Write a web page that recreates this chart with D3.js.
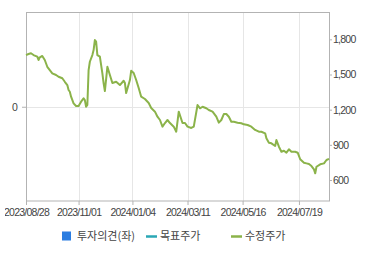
<!doctype html>
<html>

<head>
  <meta charset="utf-8">
  <title>수정주가</title>
  <script src="https://cdnjs.cloudflare.com/ajax/libs/d3/7.8.5/d3.min.js"></script>
  <style>
    body {
      margin: 0;
      background: #fff;
    }

    .axis text {
      font-family: 'Liberation Sans', Arial, sans-serif;
      font-size: 10.5px;
      letter-spacing: -0.75px;
      fill: #444;
    }

    .legend text {
      font-family: 'Noto Sans CJK KR', sans-serif;
      font-size: 11px;
      fill: #444;
    }
  </style>
</head>

<body>
  <div id="chart"></div>

  <script>
    // trading-day index of each sample and the adjusted price
    var dayIdx = [0, 2, 4, 6, 9, 10, 11, 13, 15, 17, 19, 21, 24, 26, 29, 31, 33, 34, 35, 36, 38, 40, 42, 44, 46, 47, 48, 49,
      50, 51, 53, 54, 55, 56, 57, 59, 61, 62, 63, 65, 67, 69, 72, 75, 78, 79, 80, 83, 84, 86, 88, 90, 92, 95, 98, 100,
      103, 105, 107, 109, 111, 113, 115, 118, 120, 122, 125, 127, 129, 132, 134, 137, 139, 141, 144, 146, 149, 152, 154,
      156, 158, 160, 162, 164, 166, 169, 172, 174, 177, 180, 183, 186, 188, 191, 192, 194, 196, 199, 200, 202, 204, 206,
      208, 210, 212, 215, 217, 219, 222, 224, 226, 228, 230, 231, 232, 235, 238, 240, 242];
    var price = [1666, 1675, 1681, 1666, 1652, 1624, 1647, 1658, 1624, 1566, 1538, 1510, 1496, 1481, 1468, 1438, 1410, 1368,
      1353, 1311, 1254, 1231, 1231, 1268, 1297, 1282, 1225, 1240, 1538, 1609, 1666, 1709, 1794, 1780, 1666, 1652, 1510,
      1425, 1359, 1566, 1496, 1427, 1438, 1410, 1447, 1427, 1342, 1453, 1532, 1513, 1453, 1385, 1311, 1291, 1257, 1214,
      1183, 1140, 1112, 1055, 1086, 1112, 1086, 1055, 1012, 1183, 1086, 1086, 1055, 1044, 1055, 1240, 1212, 1225, 1212,
      1197, 1183, 1140, 1089, 1112, 1163, 1163, 1140, 1097, 1097, 1089, 1084, 1075, 1069, 1055, 1027, 1012, 1012, 998,
      956, 918, 913, 890, 941, 884, 841, 850, 833, 862, 841, 841, 833, 777, 748, 742, 736, 719, 691, 657, 713, 734, 742,
      771, 780];

    var tickIdx = [0, 42, 85, 129, 173, 218];
    var tickLabels = ["2023/08/28", "2023/11/01", "2024/01/04", "2024/03/11", "2024/05/16", "2024/07/19"];
    var rightTicks = [600, 900, 1200, 1500, 1800];
    var leftTicks = [0];

    var legendItems = ["투자의견(좌)", "목표주가", "수정주가"];
    var legendColors = ["#2b7de1", "#2aa7b5", "#8bb34a"];

    var width = 370, height = 255;
    var margin = { top: 12.5, right: 41, bottom: 54, left: 26 };

    var svg = d3.select("#chart").append("svg").attr("width", width).attr("height", height);

    // the first date label is cut at the chart's left edge
    svg.append("clipPath").attr("id", "xclip")
      .append("rect").attr("x", 5).attr("y", -10).attr("width", width).attr("height", 40);

    var x = d3.scaleLinear().domain([0, 242]).range([margin.left, width - margin.right]);
    var y = d3.scaleLinear().domain([421, 2029]).range([height - margin.bottom, margin.top]);
    var yLeft = d3.scaleLinear().domain([-1, 1]).range([height - margin.bottom, margin.top]);

    // gridlines
    var grid = svg.append("g").attr("stroke", "#e6e6e6").attr("stroke-width", 1);
    grid.selectAll(".vg").data(tickIdx.slice(1)).join("line")
      .attr("x1", d => Math.round(x(d)) + 0.5).attr("x2", d => Math.round(x(d)) + 0.5)
      .attr("y1", margin.top).attr("y2", height - margin.bottom);
    grid.selectAll(".hg").data(leftTicks).join("line")
      .attr("x1", margin.left).attr("x2", width - margin.right)
      .attr("y1", d => Math.round(yLeft(d)) + 0.5).attr("y2", d => Math.round(yLeft(d)) + 0.5);

    // frame
    svg.append("rect")
      .attr("x", margin.left + 0.5).attr("y", margin.top)
      .attr("width", width - margin.left - margin.right).attr("height", height - margin.top - margin.bottom)
      .attr("fill", "none").attr("stroke", "#b3b3b3");

    // price line
    var line = d3.line().x((d, i) => x(dayIdx[i])).y(d => y(d));
    svg.append("path")
      .datum(price)
      .attr("fill", "none")
      .attr("stroke", legendColors[2])
      .attr("stroke-width", 2)
      .attr("stroke-linejoin", "round")
      .attr("d", line);

    // axes
    svg.append("g").attr("class", "axis")
      .attr("transform", `translate(0,${height - margin.bottom})`)
      .attr("clip-path", "url(#xclip)")
      .call(d3.axisBottom(x).tickValues(tickIdx).tickFormat((d, i) => tickLabels[i]).tickSize(4).tickPadding(4));
    svg.append("g").attr("class", "axis")
      .attr("transform", `translate(${width - margin.right},0)`)
      .call(d3.axisRight(y).tickValues(rightTicks).tickFormat(d3.format(",")).tickSize(3).tickPadding(1));
    svg.append("g").attr("class", "axis")
      .attr("transform", `translate(${margin.left},0)`)
      .call(d3.axisLeft(yLeft).tickValues(leftTicks).tickFormat(d3.format("d")).tickSize(4).tickPadding(5));

    svg.selectAll(".axis .domain").remove();
    svg.selectAll(".axis .tick line").attr("stroke", "#b3b3b3");

    // legend
    var legend = svg.append("g").attr("class", "legend").attr("transform", "translate(0,236)");
    var legendX = [62, 146, 231];
    legend.append("rect").attr("x", legendX[0]).attr("y", -4.5).attr("width", 9).attr("height", 9).attr("fill", legendColors[0]);
    legend.selectAll(".ll").data([1, 2]).join("line")
      .attr("x1", d => legendX[d]).attr("x2", d => legendX[d] + 11)
      .attr("y1", 0.5).attr("y2", 0.5)
      .attr("stroke", d => legendColors[d]).attr("stroke-width", 2.5);
    legend.selectAll("text").data(legendItems).join("text")
      .attr("x", (d, i) => legendX[i] + (i === 0 ? 15 : 14))
      .attr("y", 4)
      .text(d => d);
  </script>
</body>

</html>
